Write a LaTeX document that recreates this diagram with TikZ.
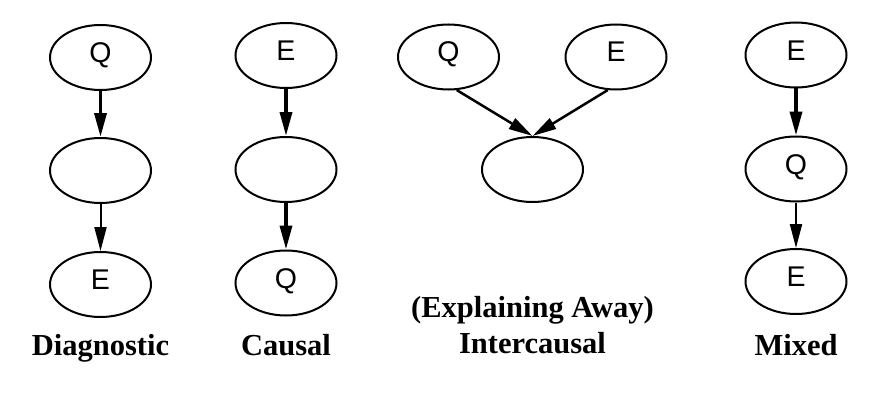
\documentclass[tikz,border=0pt]{standalone}
\usepackage{fontspec}
\setmainfont{Liberation Serif}
\newfontfamily\nodefont{Liberation Sans}
\usetikzlibrary{shapes.geometric,arrows.meta}
\tikzset{
  bnode/.style={ellipse,draw,line width=2pt,minimum width=101pt,minimum height=65pt,inner sep=0pt,
    font=\nodefont\fontsize{28.5}{28.5}\selectfont,text height=20pt,text depth=10pt},
  thickarr/.style={line width=3.5pt,-{Triangle[length=24pt,width=12pt]}},
  thinarr/.style={line width=2pt,-{Triangle[length=24pt,width=12pt]}},
  midarr/.style={line width=2.5pt,-{Triangle[length=24pt,width=12pt]}},
  caption/.style={font=\bfseries\fontsize{30.5}{36}\selectfont,inner sep=0pt,anchor=base,align=center}
}
\begin{document}
\begin{tikzpicture}[x=1pt,y=-1pt]
\useasboundingbox (0,0) rectangle (881,420);
% Diagnostic
\node[bnode] (dq) at (100.5,57.5) {Q};
\node[bnode] (dm) at (100.5,170.5) {};
\node[bnode] (de) at (100.5,284.5) {E};
\draw[thickarr] (dq) -- (dm);
\draw[thinarr] (dm) -- (de);
\node[caption] (dl) at (100.5,355) {Diagnostic};
% Causal
\node[bnode] (ce) at (286,55.5) {E};
\node[bnode] (cm) at (286,169.5) {};
\node[bnode] (cq) at (286,283) {Q};
\draw[thickarr] (ce) -- (cm);
\draw[thickarr] (cm) -- (cq);
\node[caption] (cl) at (286,355) {Causal};
% Intercausal
\node[bnode] (iq) at (448.5,57) {Q};
\node[bnode] (ie) at (616,57) {E};
\node[bnode] (im) at (532.5,169.5) {};
\draw[midarr] (iq.-76) -- (im.north);
\draw[midarr] (ie.-104) -- (im.north);
\node[caption] (il1) at (532.5,317) {(Explaining Away)};
\node[caption] (il2) at (532.5,353) {Intercausal};
% Mixed
\node[bnode] (me1) at (796,55) {E};
\node[bnode] (mq) at (796,169) {Q};
\node[bnode] (me2) at (796,281.5) {E};
\draw[thickarr] (me1) -- (mq);
\draw[thinarr] (mq) -- (me2);
\node[caption] (ml) at (796,355) {Mixed};
\end{tikzpicture}
\end{document}
